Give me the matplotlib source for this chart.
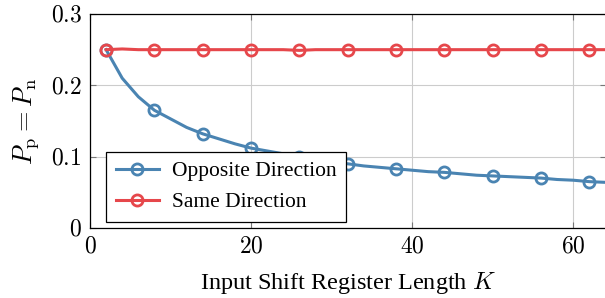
import numpy as np
import matplotlib
matplotlib.use("Agg")
import matplotlib.pyplot as plt
from matplotlib.ticker import FuncFormatter

plt.rcParams['font.family'] = ['Liberation Serif', 'DejaVu Serif']
plt.rcParams['mathtext.fontset'] = 'cm'

# datos
K = [2, 4, 6, 8, 10, 12, 14, 16, 18, 20, 22, 24, 26, 28, 30, 32,
     34, 36, 38, 40, 42, 44, 46, 48, 50, 52, 54, 56, 58, 60, 62, 64]
opuesta = [0.250, 0.210, 0.184, 0.165, 0.153, 0.141, 0.132, 0.125, 0.118, 0.112,
           0.108, 0.104, 0.100, 0.096, 0.093, 0.090, 0.087, 0.085, 0.083, 0.081,
           0.079, 0.078, 0.076, 0.074, 0.073, 0.072, 0.071, 0.070, 0.068, 0.067,
           0.065, 0.064]
misma = [0.250, 0.251, 0.250, 0.250, 0.250, 0.250, 0.250, 0.250, 0.250, 0.250,
         0.250, 0.250, 0.249, 0.250, 0.250, 0.250, 0.250, 0.250, 0.250, 0.250,
         0.250, 0.250, 0.250, 0.250, 0.250, 0.250, 0.250, 0.250, 0.250, 0.250,
         0.250, 0.250]

azul = '#4A84B2'
rojo = '#E6474B'

fig = plt.figure(figsize=(6.05, 2.98), dpi=100)
ax = fig.add_axes([90/605, 1 - 228/298, 1.0 - 90/605 + 0.002, (228 - 14)/298])

ax.plot(K, opuesta, color=azul, lw=2.2, marker='o', markevery=3, ms=8,
        mfc='none', mec=azul, mew=2.0, label='Opposite Direction', zorder=3)
ax.plot(K, misma, color=rojo, lw=2.2, marker='o', markevery=3, ms=8,
        mfc='none', mec=rojo, mew=2.0, label='Same Direction', zorder=3)

ax.set_xlim(0, 64.1)
ax.set_ylim(0, 0.3)
ax.set_xticks([0, 20, 40, 60])
ax.set_yticks([0, 0.1, 0.2, 0.3])
ax.xaxis.set_major_formatter(FuncFormatter(lambda v, p: '$%g$' % v))
ax.yaxis.set_major_formatter(FuncFormatter(lambda v, p: '$%g$' % round(v, 1)))
ax.tick_params(direction='in', length=4, width=0.8, color='#777777',
               labelsize=17, top=True, right=True, pad=6)
ax.grid(True, color='#cccccc', lw=0.8)
ax.set_axisbelow(True)
for s in ax.spines.values():
    s.set_linewidth(0.9)
ax.spines['right'].set_visible(False)

ax.set_xlabel('Input Shift Register Length $K$', fontsize=17.5, labelpad=9)
ax.set_ylabel(r'$P_\mathrm{p} = P_\mathrm{n}$', fontsize=19, labelpad=7)

leg = ax.legend(loc='lower left', bbox_to_anchor=(16/515, 6/214), fontsize=15.5,
                frameon=True, fancybox=False, edgecolor='black', framealpha=1,
                handlelength=2.0, borderpad=0.45, labelspacing=0.5,
                handletextpad=0.6, borderaxespad=0)
leg.get_frame().set_linewidth(0.9)

fig.savefig('out.png', dpi=100)
